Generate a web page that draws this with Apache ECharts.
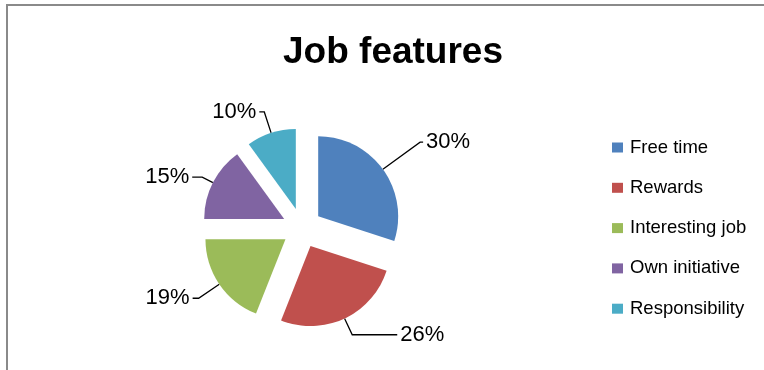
<!DOCTYPE html>
<html>
<head>
<meta charset="utf-8">
<script src="https://cdn.jsdelivr.net/npm/echarts@6/dist/echarts.min.js"></script>
<style>html,body{margin:0;padding:0;background:#fff;}#c{width:764px;height:370px;}</style>
</head>
<body>
<div id="c"></div>
<script>
const categories = ['Free time', 'Rewards', 'Interesting job', 'Own initiative', 'Responsibility'];
const values = [30, 26, 19, 15, 10];
const colors = ['#4F81BD', '#C0504D', '#9BBB59', '#8064A2', '#4BACC6'];
const lineLen = [46, 18, 25, 12, 22];
const lineLen2 = [3, 45, 6, 10, 5];

const chart = echarts.init(document.getElementById('c'), null, {renderer: 'canvas'});
const font = '"Liberation Sans", Arial, sans-serif';
chart.setOption({
  animation: false,
  backgroundColor: '#fff',
  title: {
    text: 'Job features',
    left: 278,
    top: 29,
    textStyle: {fontFamily: font, fontSize: 37, fontWeight: 'bold', color: '#000'}
  },
  graphic: [{
    type: 'rect',
    shape: {x: 7, y: 5, width: 900, height: 500},
    style: {fill: null, stroke: '#8a8a8a', lineWidth: 2},
    silent: true
  }],
  legend: {
    orient: 'vertical',
    left: 607,
    top: 133,
    itemWidth: 11,
    itemHeight: 10,
    itemGap: 21.3,
    icon: 'rect',
    textStyle: {fontFamily: font, fontSize: 18.5, color: '#000', padding: [0, 0, 0, 2]},
    selectedMode: false,
    data: categories
  },
  series: [{
    type: 'pie',
    center: [302, 228],
    radius: 80,
    startAngle: 90,
    clockwise: true,
    selectedMode: 'multiple',
    selectedOffset: 20,
    avoidLabelOverlap: false,
    emphasis: {disabled: true},
    label: {
      show: true,
      position: 'outside',
      formatter: '{c}%',
      fontFamily: font,
      fontSize: 22,
      color: '#000',
      distanceToLabelLine: 3
    },
    labelLine: {show: true, lineStyle: {color: '#000', width: 1.3}},
    data: categories.map((n, i) => ({
      name: n,
      value: values[i],
      selected: true,
      itemStyle: {color: colors[i]},
      labelLine: {length: lineLen[i], length2: lineLen2[i]}
    }))
  }]
});
</script>
</body>
</html>
